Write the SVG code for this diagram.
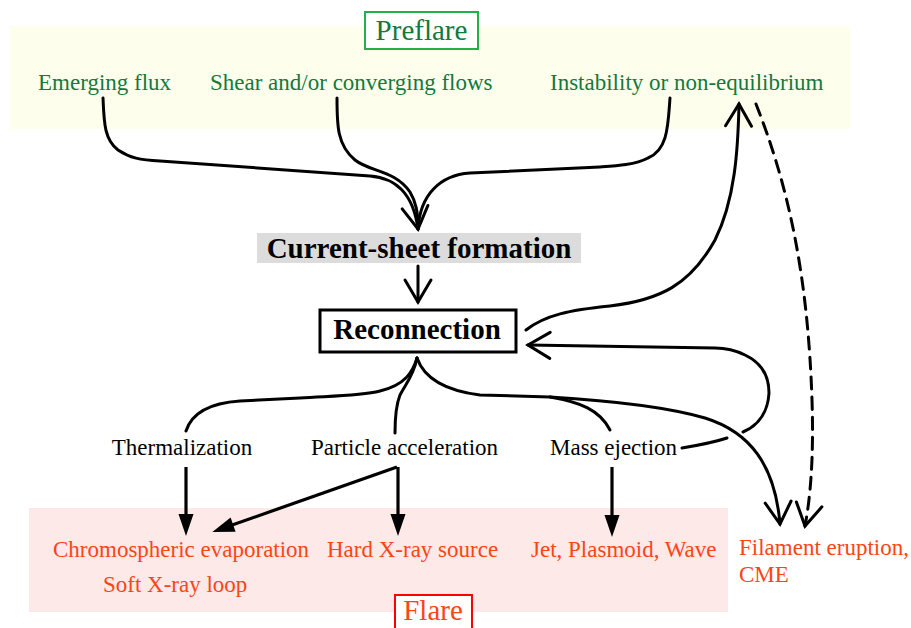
<svg xmlns="http://www.w3.org/2000/svg" width="911" height="628" viewBox="0 0 911 628">
<defs>
<style>
text{font-family:"Liberation Serif","Times New Roman",serif;}
.g{fill:#117a3c;font-size:23px;}
.r{fill:#ff4414;font-size:23px;}
.k{fill:#000;font-size:23px;}
.b{fill:#000;font-size:29px;font-weight:bold;}
.c{fill:none;stroke:#000;stroke-width:3;stroke-linecap:round;}
.f{fill:none;stroke:#000;stroke-width:3.2;}
</style>
<marker id="open" markerUnits="userSpaceOnUse" orient="auto" refX="22" refY="0" markerWidth="30" markerHeight="30" overflow="visible">
<path d="M0,-13 L22,0 L0,13" fill="none" stroke="#000" stroke-width="3" stroke-dasharray="none" stroke-linecap="round" stroke-linejoin="miter"/>
</marker>
<marker id="solid" markerUnits="userSpaceOnUse" orient="auto" refX="16" refY="0" markerWidth="30" markerHeight="30" overflow="visible">
<path d="M0,-7.5 L22,0 L0,7.5 z" fill="#000"/>
</marker>
</defs>
<rect width="911" height="628" fill="#fff"/>
<rect id="preflare-bg" x="10" y="26" width="840" height="103" fill="#fefeec"/>
<rect id="flare-bg" x="29" y="508" width="699" height="104" fill="#fee9e9"/>

<g id="preflare-title">
<rect x="365" y="12" width="113" height="37" fill="#fff" stroke="#22b04b" stroke-width="2"/>
<text x="421.5" y="40" text-anchor="middle" style="fill:#117a3c;font-size:29px">Preflare</text>
</g>
<g id="emerging-flux"><text class="g" x="38" y="90">Emerging flux</text></g>
<g id="shear"><text class="g" x="210" y="90">Shear and/or converging flows</text></g>
<g id="instability"><text class="g" x="550" y="90">Instability or non-equilibrium</text></g>

<g id="current-sheet">
<rect x="257" y="233" width="324" height="30" fill="#dcdcdc"/>
<text class="b" x="419" y="258" text-anchor="middle">Current-sheet formation</text>
</g>
<g id="reconnection">
<rect x="320" y="310" width="196" height="42" fill="#fff" stroke="#000" stroke-width="3"/>
<text class="b" x="417" y="339" text-anchor="middle">Reconnection</text>
</g>

<g id="thermalization"><text class="k" x="182" y="455" text-anchor="middle">Thermalization</text></g>
<g id="particle-acceleration"><text class="k" x="404.5" y="455" text-anchor="middle">Particle acceleration</text></g>
<g id="mass-ejection"><text class="k" x="550" y="455">Mass ejection</text></g>

<g id="chromospheric-evaporation">
<text class="r" x="53" y="557">Chromospheric evaporation</text>
<text class="r" x="103" y="592">Soft X-ray loop</text>
</g>
<g id="hard-xray"><text class="r" x="327" y="557">Hard X-ray source</text></g>
<g id="jet"><text class="r" x="531" y="557">Jet, Plasmoid, Wave</text></g>
<g id="filament-eruption">
<text class="r" x="739" y="555">Filament eruption,</text>
<text class="r" x="739" y="582">CME</text>
</g>
<g id="flare-title">
<rect x="395" y="595" width="77" height="40" fill="#fff" stroke="#ff0000" stroke-width="2"/>
<text x="433" y="620" text-anchor="middle" style="fill:#ff4414;font-size:29px">Flare</text>
</g>

<g id="connectors">
<path class="c" d="M103,98 C104,125 105,140 118,150 C130,158 140,160 160,161 L370,176 C395,178 413,192 418,229" marker-end="url(#open)"/>
<path class="c" d="M337,98 C337,125 337,145 355,160 C370,172 395,170 410,192 C416,202 418,212 418,229"/>
<path class="c" d="M670,98 C668,125 668,150 648,158 C635,165 615,166 600,167 L470,173 C440,175 420,195 418,229"/>
<path class="c" d="M418,266 L418,302" marker-end="url(#open)"/>
<path class="c" d="M526,330 C545,315 570,310 610,306 C660,300 690,285 715,240 C735,200 738,150 739,104" marker-end="url(#open)"/>
<path class="c" d="M682,448 C700,445 715,442 727,438"/>
<path class="c" d="M743,432 C760,425 768,410 769,393 C769,375 760,362 745,355 C735,350 725,348 715,348 L528,345" marker-end="url(#open)"/>
<path class="c" d="M417,358 C413,372 405,385 380,391 C360,396 330,396 300,398 L240,401 C210,403 192,412 186,431"/>
<path class="c" d="M417,358 C414,375 405,385 400,395 C396,405 395,420 395,433"/>
<path class="c" d="M417,358 C423,375 440,390 480,395 L550,397 C600,400 660,405 705,418 C750,432 775,465 780,524" marker-end="url(#open)"/>
<path class="c" d="M550,397 C580,402 600,410 610,430"/>
<path class="c" d="M756,104 C790,190 808,280 812,400 C814,460 810,500 805,526" stroke-dasharray="12,8" stroke-linecap="butt" marker-end="url(#open)"/>
<path class="f" d="M186,467 L186,530" marker-end="url(#solid)"/>
<path class="f" d="M398,467 L398,530" marker-end="url(#solid)"/>
<path class="f" d="M397,467 L218,530" marker-end="url(#solid)"/>
<path class="f" d="M612,467 L612,531" marker-end="url(#solid)"/>
</g>
</svg>
